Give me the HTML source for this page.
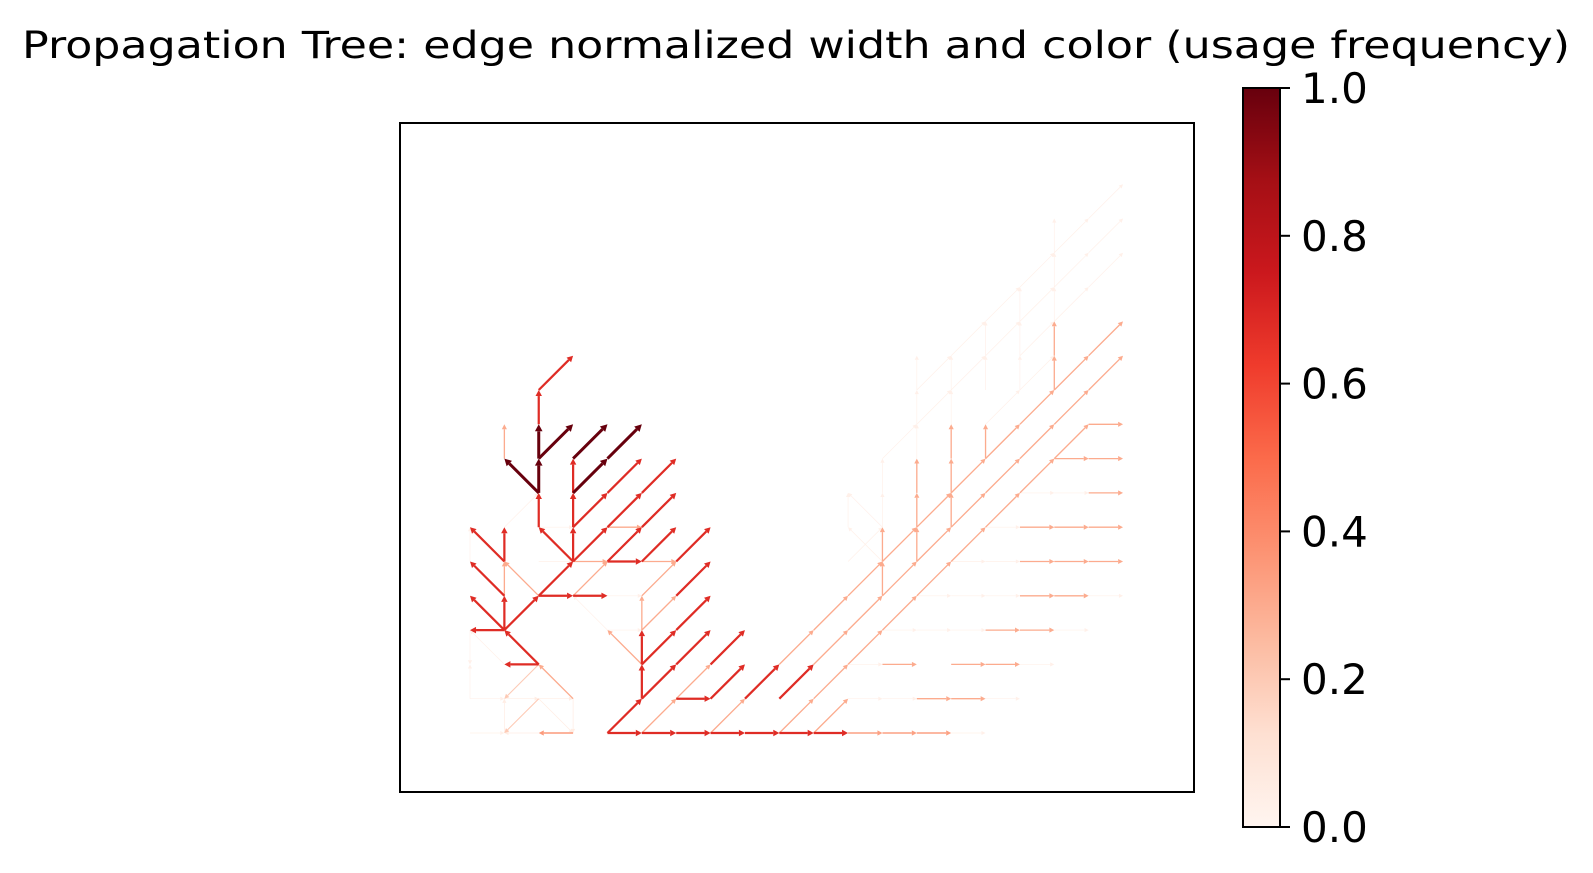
<!DOCTYPE html>
<html><head><meta charset="utf-8"><style>
html,body{margin:0;padding:0;background:#fff;}
svg{display:block;font-family:"DejaVu Sans","Liberation Sans",sans-serif;}
</style></head><body>
<svg id="chart" width="1593" height="873" viewBox="0 0 1593 873" xmlns="http://www.w3.org/2000/svg">
<defs>
<linearGradient id="cbgrad" x1="0" y1="1" x2="0" y2="0">
<stop offset="0" stop-color="#fff5f0"/><stop offset="0.125" stop-color="#fee0d2"/>
<stop offset="0.25" stop-color="#fcbba1"/><stop offset="0.375" stop-color="#fc9272"/>
<stop offset="0.5" stop-color="#fb6a4a"/><stop offset="0.625" stop-color="#ef3b2c"/>
<stop offset="0.75" stop-color="#cb181d"/><stop offset="0.875" stop-color="#a50f15"/>
<stop offset="1" stop-color="#67000d"/>
</linearGradient>
</defs>
<text x="22" y="58" font-size="37" textLength="1548" lengthAdjust="spacingAndGlyphs" fill="#000">Propagation Tree: edge normalized width and color (usage frequency)</text>
<rect x="400" y="123" width="794" height="669" fill="none" stroke="#000" stroke-width="2"/>
<g id="edges"></g>
<rect x="1243" y="88" width="37" height="739" fill="url(#cbgrad)" stroke="#000" stroke-width="2"/>
<g id="cbticks"></g>
</svg>
<script>
// edges: [fromCol, fromRow, toCol, toRow, usage]
const edgesFrom = [
[2,10,3,11,.68],[2,9,2,10,.68],[2,8,2,9,1],[2,8,3,9,1],[2,7,2,8,1],[2,7,1,8,1],[1,8,1,9,.3],
[3,8,4,9,1],[3,7,4,8,1],[4,8,5,9,1],[3,7,3,8,.68],[3,6,3,7,.68],[3,5,3,6,.68],[2,6,2,7,.68],[3,5,2,6,.68],
[3,6,4,7,.68],[3,5,4,6,.68],[4,6,5,7,.68],[4,7,5,8,.68],[5,7,6,8,.68],[5,6,6,7,.68],[6,5,7,6,.68],[5,5,6,6,.68],
[3,5,4,5,.3],[4,5,5,5,.68],[5,5,6,5,.3],[4,5,5,6,.68],[4,6,5,6,.3],
[1,5,0,6,.68],[1,5,1,6,.68],[1,4,1,5,.3],[2,4,1,5,.3],[1,4,0,5,.68],[2,4,3,5,.68],[2,4,3,4,.68],[3,4,4,4,.68],[3,4,4,5,.3],
[1,3,1,4,.68],[1,3,0,4,.68],[1,3,2,4,.68],[1,3,0,3,.68],[2,2,1,3,.68],[2,2,1,2,.68],[2,2,1,1,.2],[3,1,2,2,.3],[2,1,1,0,.2],[3,0,2,0,.35],
[4,0,5,1,.68],[4,0,5,0,.68],[5,0,6,0,.68],[6,0,7,0,.68],[7,0,8,0,.68],[8,0,9,0,.68],[9,0,10,0,.68],[10,0,11,0,.68],
[11,0,12,0,.33],[12,0,13,0,.33],[13,0,14,0,.33],
[5,1,5,2,.68],[5,2,5,3,.68],[5,2,4,3,.3],[5,1,6,2,.68],[6,2,7,3,.68],[5,2,6,3,.68],[6,3,7,4,.68],[5,3,6,4,.3],[6,4,7,5,.68],
[5,3,5,4,.3],[5,4,6,5,.3],[6,1,7,1,.68],[7,1,8,2,.68],[8,1,9,2,.68],[9,1,10,2,.68],[7,2,8,3,.68],
[5,0,6,1,.3],[6,1,7,2,.3],[7,0,8,1,.3],[9,0,10,1,.3],[10,0,11,1,.3],
[9,2,10,3,.3],[10,3,11,4,.3],[11,4,12,5,.3],[12,5,13,6,.3],[13,6,14,7,.3],[14,7,15,8,.3],[15,8,16,9,.3],[16,9,17,10,.3],[17,10,18,11,.3],[18,11,19,12,.3],
[10,2,11,3,.3],[11,3,12,4,.3],[12,4,13,5,.3],[13,5,14,6,.3],[14,6,15,7,.3],[15,7,16,8,.3],[16,8,17,9,.3],[17,9,18,10,.3],[18,10,19,11,.3],
[10,1,11,2,.3],[11,2,12,3,.3],[12,3,13,4,.3],[13,4,14,5,.3],[14,5,15,6,.3],[15,6,16,7,.3],[16,7,17,8,.3],[17,8,18,9,.3],
[13,1,14,1,.3],[14,1,15,1,.3],[12,2,13,2,.3],[14,2,15,2,.3],[15,2,16,2,.3],[15,3,16,3,.3],[16,3,17,3,.3],
[16,4,17,4,.3],[17,4,18,4,.3],[16,5,17,5,.3],[17,5,18,5,.3],[18,5,19,5,.3],[16,6,17,6,.3],[17,6,18,6,.3],[18,6,19,6,.3],
[18,7,19,7,.3],[17,8,18,8,.3],[18,8,19,8,.3],[18,9,19,9,.3],
[12,4,12,5,.3],[12,5,12,6,.3],[13,5,13,6,.3],[13,6,13,7,.3],[13,7,13,8,.3],[14,6,14,7,.3],[14,7,14,8,.3],[14,8,14,9,.3],[15,8,15,9,.3],
[17,10,17,11,.3],[17,11,17,12,.3],
[17,12,17,13,.03],[17,13,17,14,.03],[17,14,17,15,.03],[16,10,16,11,.03],[16,11,16,12,.03],[16,12,16,13,.03],[15,10,15,11,.03],[15,11,15,12,.03],
[14,9,14,10,.03],[14,10,14,11,.03],[13,8,13,9,.03],[13,9,13,10,.03],[13,10,13,11,.03],[12,6,12,7,.03],[12,7,12,8,.03],[11,6,11,7,.03],
[13,9,14,10,.03],[14,10,15,11,.03],[15,11,16,12,.03],[16,12,17,13,.03],[17,13,18,14,.03],[18,14,19,15,.03],[12,8,13,9,.03],[13,10,14,11,.03],
[14,11,15,12,.03],[15,12,16,13,.03],[16,13,17,14,.03],[17,14,18,15,.03],[18,15,19,16,.03],[17,12,18,13,.03],[18,13,19,14,.03],[16,11,17,12,.03],
[11,5,12,6,.03],[12,6,11,7,.03],[12,5,11,6,.03],[15,9,16,10,.03],[16,10,17,11,.03],
[12,1,13,1,.03],[15,1,16,1,.03],[11,2,12,2,.03],[16,2,17,2,.03],[12,3,13,3,.03],[13,3,14,3,.03],[14,3,15,3,.03],[17,3,18,3,.03],
[13,4,14,4,.03],[14,4,15,4,.03],[15,4,16,4,.03],[18,4,19,4,.03],[14,5,15,5,.03],[15,5,16,5,.03],[15,6,16,6,.03],[16,7,17,7,.03],[17,7,18,7,.03],
[14,0,15,0,.03],[11,1,12,1,.03],[0,1,0,2,.03],[0,0,1,0,.03],[1,0,1,1,.05],[1,1,2,1,.05],[2,1,3,1,.05],[3,1,3,0,.05],[2,1,3,0,.05],[0,3,0,2,.03],
[1,2,0,3,.03],[0,1,1,1,.03],[2,0,1,0,.05],[4,4,5,4,.03],[4,3,5,3,.03],[4,3,3,4,.03],[0,5,0,6,.03],[2,5,3,5,.03],[2,6,3,6,.03],[1,6,2,7,.03]
];
const tickValues = [0, 0.2, 0.4, 0.6, 0.8, 1.0];
const tickLabels = ["0.0","0.2","0.4","0.6","0.8","1.0"];

const NS = "http://www.w3.org/2000/svg";
const xCol = c => 470 + 34.37 * c;
const yRow = r => 733 - 34.3 * r;
const stops = [[255,245,240],[254,224,210],[252,187,161],[252,146,114],[251,106,74],[239,59,44],[203,24,29],[165,15,21],[103,0,13]];
function cmap(v){
  v = Math.max(0, Math.min(1, v));
  const p = v * 8, i = Math.min(7, Math.floor(p)), t = p - i;
  const a = stops[i], b = stops[i+1];
  return "rgb(" + a.map((x,k)=>Math.round(x + (b[k]-x)*t)).join(",") + ")";
}
const g = document.getElementById("edges");
const sorted = edgesFrom.slice().sort((a,b)=>a[4]-b[4]);
sorted.forEach((e, idx) => {
  const [c0,r0,c1,r1,v] = e;
  const x0 = xCol(c0), y0 = yRow(r0), x1 = xCol(c1), y1 = yRow(r1);
  const col = cmap(v), w = 0.6 + 2.4 * v;
  const dx = x1 - x0, dy = y1 - y0, L = Math.hypot(dx, dy), ux = dx / L, uy = dy / L;
  const hl = 4 + 3 * v, hw = 2 + 1.8 * v;
  const bx = x1 - ux * hl, by = y1 - uy * hl;
  const line = document.createElementNS(NS, "line");
  
  
  line.setAttribute("x1", x0); line.setAttribute("y1", y0);
  line.setAttribute("x2", bx); line.setAttribute("y2", by);
  line.setAttribute("stroke", col); line.setAttribute("stroke-width", w);
  g.appendChild(line);
  const head = document.createElementNS(NS, "polygon");
  
  
  head.setAttribute("points", [x1, y1, bx - uy * hw, by + ux * hw, bx + uy * hw, by - ux * hw].join(","));
  head.setAttribute("fill", col);
  g.appendChild(head);
});
const tg = document.getElementById("cbticks");
tickValues.forEach((v, i) => {
  const y = 827 - v * 739;
  const t = document.createElementNS(NS, "line");
  
  
  t.setAttribute("x1", 1280); t.setAttribute("x2", 1290);
  t.setAttribute("y1", y); t.setAttribute("y2", y);
  t.setAttribute("stroke", "#000"); t.setAttribute("stroke-width", 2);
  tg.appendChild(t);
  const lab = document.createElementNS(NS, "text");
  
  
  lab.setAttribute("x", 1301); lab.setAttribute("y", y + 15);
  lab.setAttribute("font-size", "42");
  lab.textContent = tickLabels[i];
  tg.appendChild(lab);
});
</script>
</body></html>
